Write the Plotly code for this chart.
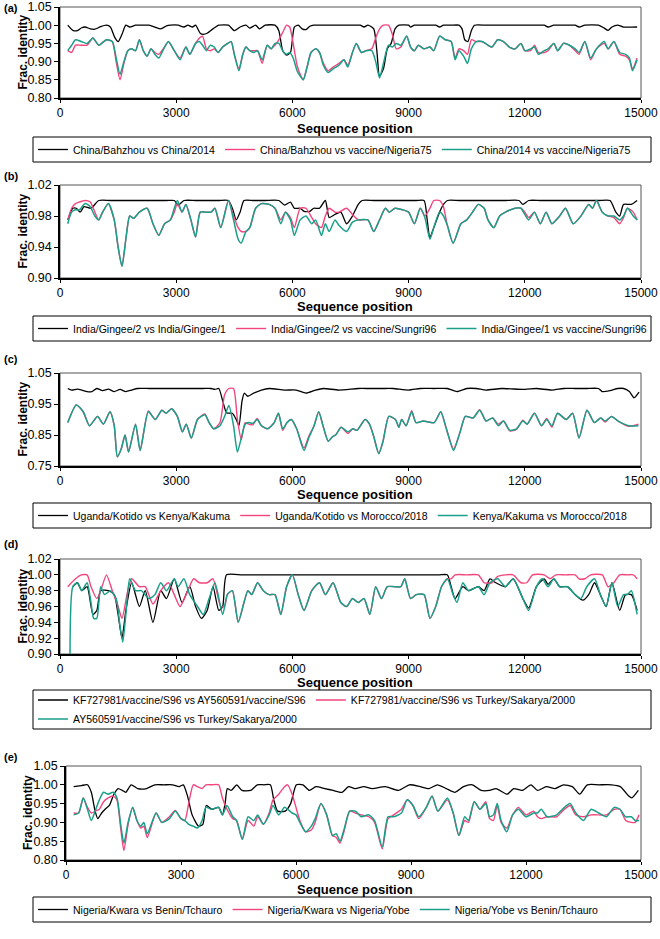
import plotly.graph_objects as go

# ---------------- DATA ----------------
# Panel (a)
a_names = ["China/Bahzhou vs China/2014", "China/Bahzhou vs vaccine/Nigeria75", "China/2014 vs vaccine/Nigeria75"]
a_black_x = [200, 330, 450, 560, 650, 780, 900, 1050, 1200, 1300, 1420, 1500, 1600, 1700, 1800, 1950, 2120, 2300, 2450, 2600,
             2750, 2850, 3050, 3200, 3300, 3420, 3500, 3620, 3700, 3800, 3950, 4100, 4350, 4500, 4650, 4800, 4900, 5050, 5150,
             5300, 5550, 5650, 5750, 5850, 5950, 6050, 6150, 6250, 6350, 6450, 6550, 6850, 7150, 7450, 7750, 7850, 7950, 8100,
             8180, 8250, 8350, 8450, 8550, 8650, 8750, 9000, 9050, 9150, 9400, 9700, 9800, 9900, 10100, 10300, 10380, 10450,
             10530, 10620, 10700, 11000, 11300, 11600, 11900, 12200, 12500, 12600, 12750, 13000, 13300, 13400, 13550, 13900,
             14050, 14150, 14250, 14400, 14550, 14900]
a_black_y = [1.000, 0.986, 0.985, 0.993, 0.995, 0.990, 0.989, 0.996, 1.000, 0.995, 0.965, 0.955, 0.975, 1.000, 0.995, 1.000,
             1.000, 1.000, 0.995, 0.990, 0.998, 1.000, 1.000, 0.995, 1.000, 0.995, 1.000, 0.978, 0.975, 0.978, 0.990, 1.000,
             1.000, 0.985, 0.995, 1.000, 0.992, 1.000, 0.990, 1.000, 1.000, 0.985, 0.930, 0.918, 0.925, 0.995, 1.000, 0.990,
             0.988, 0.997, 1.000, 1.000, 1.000, 1.000, 1.000, 0.995, 1.000, 0.990, 0.930, 0.860, 0.880, 0.935, 0.950, 0.990,
             1.000, 1.000, 0.995, 1.000, 1.000, 1.000, 0.995, 1.000, 1.000, 1.000, 0.990, 0.960, 0.955, 0.985, 1.000, 1.000,
             1.000, 1.000, 1.000, 1.000, 1.000, 0.995, 1.000, 1.000, 1.000, 0.995, 1.000, 1.000, 0.992, 0.986, 0.995, 1.000,
             0.995, 0.995]
a_col_x = [200, 300, 400, 550, 700, 850, 1000, 1200, 1350, 1450, 1550, 1650, 1750, 1850, 1950, 2050, 2150, 2250, 2350, 2450,
           2550, 2700, 2800, 2950, 3100, 3250, 3350, 3500, 3600, 3680, 3780, 3880, 3980, 4080, 4200, 4330, 4420, 4500, 4620,
           4720, 4800, 4900, 5000, 5100, 5220, 5350, 5450, 5550, 5650, 5750, 5850, 5930, 6020, 6120, 6200, 6280, 6380, 6480,
           6600, 6700, 6800, 6920, 7050, 7200, 7330, 7430, 7550, 7650, 7780, 7900, 8050, 8150, 8250, 8350, 8480, 8580, 8680,
           8800, 8950, 9050, 9150, 9250, 9400, 9550, 9650, 9800, 9950, 10100, 10200, 10300, 10420, 10520, 10620, 10750, 10900,
           11050, 11150, 11300, 11450, 11600, 11750, 11900, 12000, 12150, 12250, 12350, 12500, 12600, 12750, 12850, 13000,
           13150, 13300, 13400, 13550, 13700, 13850, 14050, 14150, 14300, 14450, 14600, 14700, 14780, 14900]
a_green_y = [0.930, 0.945, 0.960, 0.955, 0.950, 0.965, 0.945, 0.960, 0.955, 0.910, 0.865, 0.900, 0.930, 0.935, 0.930, 0.960,
             0.930, 0.915, 0.935, 0.920, 0.910, 0.940, 0.955, 0.930, 0.905, 0.940, 0.920, 0.950, 0.955, 0.945, 0.930, 0.945,
             0.940, 0.925, 0.940, 0.950, 0.955, 0.920, 0.875, 0.920, 0.940, 0.930, 0.925, 0.930, 0.905, 0.945, 0.935, 0.950,
             0.950, 0.930, 0.920, 0.925, 0.910, 0.875, 0.860, 0.850, 0.885, 0.925, 0.935, 0.925, 0.890, 0.870, 0.880, 0.890,
             0.905, 0.885, 0.925, 0.950, 0.925, 0.930, 0.930, 0.900, 0.855, 0.895, 0.945, 0.940, 0.950, 0.945, 0.970, 0.940,
             0.930, 0.945, 0.935, 0.940, 0.930, 0.970, 0.960, 0.955, 0.905, 0.930, 0.915, 0.895, 0.935, 0.955, 0.955, 0.945,
             0.940, 0.960, 0.955, 0.940, 0.935, 0.950, 0.930, 0.935, 0.940, 0.920, 0.930, 0.935, 0.950, 0.930, 0.950, 0.945,
             0.935, 0.925, 0.955, 0.910, 0.935, 0.955, 0.935, 0.955, 0.925, 0.920, 0.910, 0.875, 0.905]
a_pink_y = [0.930, 0.925, 0.945, 0.945, 0.945, 0.965, 0.945, 0.960, 0.955, 0.900, 0.850, 0.895, 0.930, 0.935, 0.930, 0.960,
            0.930, 0.915, 0.935, 0.925, 0.920, 0.940, 0.955, 0.930, 0.910, 0.940, 0.920, 0.950, 0.965, 0.970, 0.935, 0.930,
            0.935, 0.925, 0.940, 0.950, 0.955, 0.920, 0.880, 0.920, 0.940, 0.930, 0.930, 0.930, 0.895, 0.945, 0.935, 0.945,
            0.960, 0.980, 1.000, 0.995, 0.950, 0.890, 0.865, 0.850, 0.885, 0.925, 0.935, 0.925, 0.895, 0.875, 0.885, 0.895,
            0.905, 0.890, 0.925, 0.950, 0.925, 0.930, 0.935, 0.965, 0.990, 1.000, 1.000, 0.975, 0.935, 0.940, 0.970, 0.940,
            0.930, 0.945, 0.935, 0.940, 0.930, 0.970, 0.960, 0.955, 0.910, 0.935, 0.930, 0.920, 0.960, 0.955, 0.955, 0.945,
            0.940, 0.960, 0.955, 0.940, 0.935, 0.950, 0.930, 0.930, 0.945, 0.925, 0.925, 0.930, 0.950, 0.930, 0.950, 0.945,
            0.930, 0.920, 0.955, 0.905, 0.935, 0.950, 0.935, 0.955, 0.920, 0.915, 0.905, 0.880, 0.910]

# Panel (b)
b_names = ["India/Gingee/2 vs India/Gingee/1", "India/Gingee/2 vs vaccine/Sungri96", "India/Gingee/1 vs vaccine/Sungri96"]
b_black_x = [200, 330, 420, 520, 620, 800, 1000, 1300, 1600, 1900, 2200, 2500, 2750, 2950, 3050, 3200, 3500, 3800, 4100,
             4350, 4450, 4550, 4650, 4750, 5000, 5300, 5650, 5800, 5950, 6050, 6200, 6300, 6450, 6550, 6700, 6850, 6950,
             7100, 7250, 7400, 7550, 7700, 7800, 8100, 8400, 8700, 9000, 9200, 9400, 9480, 9550, 9650, 9800, 9900, 10000,
             10300, 10600, 10900, 11200, 11500, 11850, 11950, 12100, 12400, 12700, 13000, 13300, 13600, 13900, 14200,
             14350, 14450, 14550, 14750, 14900]
b_black_y = [0.975, 0.990, 0.990, 0.985, 0.992, 0.990, 1.000, 1.000, 1.000, 1.000, 1.000, 1.000, 1.000, 1.000, 0.994, 1.000,
             1.000, 1.000, 1.000, 1.000, 0.990, 0.975, 0.985, 1.000, 1.000, 1.000, 1.000, 0.994, 0.998, 0.990, 0.990, 0.986,
             0.986, 0.990, 0.990, 1.000, 0.978, 0.982, 0.985, 0.970, 0.980, 0.995, 1.000, 1.000, 1.000, 1.000, 1.000, 1.000,
             1.000, 0.975, 0.952, 0.965, 0.985, 0.995, 1.000, 1.000, 1.000, 1.000, 1.000, 1.000, 1.000, 0.995, 1.000, 1.000,
             1.000, 1.000, 1.000, 1.000, 1.000, 1.000, 0.985, 0.980, 0.995, 0.995, 1.000]
b_col_x = [200, 300, 400, 500, 650, 780, 900, 1000, 1100, 1250, 1400, 1500, 1600, 1700, 1800, 1900, 2050, 2250, 2400, 2550,
           2700, 2850, 2950, 3030, 3150, 3250, 3380, 3500, 3620, 3750, 3900, 4000, 4150, 4350, 4480, 4600, 4680, 4800, 4900,
           5050, 5200, 5400, 5550, 5700, 5820, 5950, 6050, 6200, 6350, 6500, 6600, 6750, 6850, 6950, 7100, 7200, 7400, 7550,
           7700, 7950, 8100, 8250, 8400, 8500, 8650, 8850, 9000, 9150, 9300, 9420, 9550, 9650, 9800, 9900, 10000, 10150,
           10350, 10500, 10650, 10800, 10950, 11050, 11200, 11350, 11500, 11750, 11900, 12000, 12100, 12250, 12400, 12550,
           12700, 12900, 13050, 13250, 13450, 13650, 13750, 13850, 14000, 14150, 14300, 14450, 14550, 14650, 14800, 14900]
b_green_y = [0.970, 0.985, 0.988, 0.988, 0.996, 0.992, 0.980, 0.975, 0.985, 0.996, 0.975, 0.940, 0.915, 0.950, 0.980, 0.977,
             0.985, 0.990, 0.970, 0.955, 0.970, 0.975, 0.990, 1.000, 0.985, 0.995, 0.975, 0.953, 0.985, 0.985, 0.985, 0.990,
             0.965, 1.000, 0.975, 0.950, 0.945, 0.960, 0.965, 0.990, 0.996, 0.995, 0.990, 0.970, 0.985, 0.975, 0.955, 0.975,
             0.980, 0.970, 0.975, 0.955, 0.970, 0.960, 0.975, 0.968, 0.960, 0.972, 0.975, 0.975, 0.960, 0.975, 0.990, 0.985,
             0.990, 0.988, 0.985, 0.970, 0.990, 0.978, 0.950, 0.965, 0.985, 0.980, 0.968, 0.945, 0.970, 0.975, 0.985, 0.995,
             0.990, 0.975, 0.965, 0.980, 0.985, 0.990, 0.990, 0.982, 0.975, 0.985, 0.970, 0.985, 0.970, 0.980, 0.990, 0.970,
             0.980, 0.995, 0.990, 1.000, 0.985, 0.980, 0.980, 0.975, 0.980, 0.990, 0.980, 0.975]
b_pink_y = [0.975, 0.990, 0.996, 0.998, 1.000, 0.998, 0.985, 0.975, 0.985, 0.996, 0.975, 0.940, 0.915, 0.950, 0.980, 0.977,
            0.985, 0.990, 0.970, 0.955, 0.970, 0.975, 0.985, 0.996, 0.985, 0.995, 0.975, 0.953, 0.985, 0.985, 0.985, 0.990,
            0.965, 1.000, 0.980, 0.965, 0.960, 0.960, 0.965, 0.990, 0.996, 0.995, 0.990, 0.975, 0.985, 0.978, 0.965, 0.990,
            0.990, 0.978, 0.970, 0.965, 0.980, 0.990, 0.985, 0.985, 0.990, 0.982, 0.975, 0.975, 0.960, 0.975, 0.990, 0.985,
            0.990, 0.988, 0.985, 0.970, 0.990, 0.980, 0.990, 1.000, 1.000, 0.992, 0.968, 0.945, 0.970, 0.975, 0.985, 0.995,
            0.990, 0.975, 0.965, 0.980, 0.985, 0.990, 0.990, 0.985, 0.978, 0.985, 0.970, 0.985, 0.970, 0.980, 0.990, 0.970,
            0.980, 0.995, 0.990, 1.000, 0.985, 0.980, 0.978, 0.970, 0.978, 0.990, 0.985, 0.975]

# Panel (c)
c_names = ["Uganda/Kotido vs Kenya/Kakuma", "Uganda/Kotido vs Morocco/2018", "Kenya/Kakuma vs Morocco/2018"]
c_black_x = [200, 300, 450, 560, 700, 820, 950, 1100, 1250, 1400, 1550, 1700, 1850, 2000, 2300, 2600, 2900, 3200, 3500,
             3700, 3900, 4000, 4100, 4200, 4300, 4450, 4550, 4620, 4700, 4760, 4850, 5000, 5200, 5400, 5800, 6100, 6350,
             6600, 6800, 7200, 7700, 8000, 8300, 8600, 9000, 9300, 9650, 10000, 10250, 10500, 10750, 11000, 11400, 12000,
             12300, 12700, 13000, 13300, 13600, 13900, 14000, 14200, 14400, 14550, 14700, 14820, 14950]
c_black_y = [1.000, 0.995, 0.998, 0.995, 0.990, 0.990, 1.000, 0.993, 0.998, 0.990, 0.997, 0.990, 0.995, 1.000, 1.000, 1.000,
             1.000, 1.000, 1.000, 1.000, 1.000, 0.997, 1.000, 0.960, 0.922, 0.920, 0.900, 0.880, 0.960, 0.985, 0.975, 0.985,
             0.995, 1.000, 0.995, 0.995, 0.985, 0.995, 1.000, 0.995, 1.000, 1.000, 1.000, 1.000, 0.995, 1.000, 1.000, 1.000,
             0.990, 1.000, 1.000, 0.995, 1.000, 0.997, 1.000, 0.995, 1.000, 1.000, 1.000, 1.000, 0.990, 0.993, 1.000, 1.000,
             0.990, 0.970, 0.988]
c_col_x = [200, 420, 600, 760, 970, 1120, 1290, 1400, 1480, 1580, 1680, 1770, 1950, 2070, 2280, 2460, 2630, 2740, 2880, 3030,
           3160, 3260, 3390, 3550, 3740, 3850, 3970, 4130, 4250, 4360, 4480, 4580, 4680, 4780, 4880, 4980, 5090, 5200, 5360,
           5530, 5640, 5750, 5860, 5975, 6110, 6300, 6420, 6560, 6680, 6790, 6925, 7040, 7115, 7260, 7430, 7560, 7670, 7875,
           7990, 8100, 8230, 8340, 8490, 8660, 8750, 8820, 8935, 9080, 9190, 9380, 9660, 9830, 9975, 10160, 10330, 10465,
           10665, 10835, 11000, 11170, 11315, 11450, 11615, 11785, 11950, 12060, 12250, 12430, 12565, 12700, 12845, 13070,
           13235, 13400, 13605, 13795, 13960, 14075, 14240, 14410, 14690, 14935]
c_green_y = [0.890, 0.947, 0.925, 0.880, 0.910, 0.885, 0.925, 0.880, 0.780, 0.805, 0.850, 0.795, 0.885, 0.800, 0.925, 0.900,
             0.930, 0.920, 0.935, 0.910, 0.860, 0.885, 0.840, 0.900, 0.915, 0.890, 0.870, 0.880, 0.910, 0.945, 0.880, 0.795,
             0.840, 0.885, 0.890, 0.888, 0.900, 0.880, 0.870, 0.890, 0.920, 0.870, 0.890, 0.900, 0.870, 0.800, 0.840, 0.880,
             0.925, 0.880, 0.830, 0.845, 0.850, 0.875, 0.860, 0.870, 0.865, 0.900, 0.885, 0.845, 0.790, 0.830, 0.910, 0.900,
             0.875, 0.900, 0.880, 0.925, 0.890, 0.895, 0.890, 0.925, 0.870, 0.800, 0.860, 0.910, 0.905, 0.930, 0.895, 0.905,
             0.880, 0.895, 0.865, 0.870, 0.895, 0.885, 0.920, 0.880, 0.900, 0.880, 0.920, 0.900, 0.920, 0.840, 0.930, 0.890,
             0.905, 0.895, 0.910, 0.895, 0.880, 0.880]
c_pink_y = [0.890, 0.947, 0.925, 0.880, 0.910, 0.885, 0.925, 0.880, 0.780, 0.805, 0.850, 0.795, 0.885, 0.800, 0.928, 0.900,
            0.930, 0.920, 0.935, 0.910, 0.860, 0.885, 0.840, 0.900, 0.918, 0.890, 0.870, 0.890, 0.980, 1.000, 1.000, 0.900,
            0.835, 0.890, 0.885, 0.883, 0.903, 0.880, 0.870, 0.890, 0.920, 0.865, 0.890, 0.900, 0.870, 0.808, 0.845, 0.880,
            0.925, 0.880, 0.830, 0.845, 0.850, 0.875, 0.855, 0.870, 0.865, 0.900, 0.885, 0.845, 0.790, 0.830, 0.910, 0.900,
            0.875, 0.900, 0.880, 0.928, 0.890, 0.895, 0.890, 0.925, 0.870, 0.805, 0.860, 0.910, 0.905, 0.932, 0.895, 0.905,
            0.885, 0.895, 0.863, 0.868, 0.898, 0.885, 0.920, 0.880, 0.903, 0.875, 0.920, 0.900, 0.920, 0.840, 0.930, 0.890,
            0.905, 0.892, 0.910, 0.895, 0.878, 0.885]

# Panel (d)
d_names = ["KF727981/vaccine/S96 vs AY560591/vaccine/S96", "KF727981/vaccine/S96 vs Turkey/Sakarya/2000",
           "AY560591/vaccine/S96 vs Turkey/Sakarya/2000"]
d_black_x = [330, 450, 560, 700, 850, 950, 1050, 1250, 1400, 1500, 1600, 1700, 1850, 2050, 2200, 2400, 2600, 2750, 2950,
             3150, 3350, 3500, 3650, 3800, 3950, 4100, 4200, 4300, 4700, 5100, 5500, 5900, 6300, 6700, 7100, 7500, 7900,
             8300, 8700, 9100, 9500, 9800, 10000, 10100, 10200, 10400, 10550, 10800, 10950, 11100, 11250, 11500, 11700,
             11950, 12100, 12300, 12500, 12600, 12750, 12900, 13100, 13300, 13500, 13650, 13800, 13950, 14100, 14250,
             14450, 14600, 14750, 14900]
d_black_y = [0.985, 0.990, 0.980, 0.985, 0.950, 0.955, 0.980, 0.980, 0.975, 0.950, 0.920, 0.955, 0.990, 0.960, 0.980, 0.940,
             0.980, 0.970, 0.995, 0.965, 0.985, 0.960, 0.945, 0.955, 0.985, 0.955, 0.960, 1.000, 1.000, 1.000, 1.000, 1.000,
             1.000, 1.000, 1.000, 1.000, 1.000, 1.000, 1.000, 1.000, 1.000, 1.000, 1.000, 0.985, 0.970, 0.985, 0.980, 0.985,
             0.980, 0.995, 0.990, 0.985, 0.995, 0.970, 0.958, 0.985, 0.995, 0.988, 0.995, 0.985, 0.985, 0.975, 0.968, 0.975,
             0.990, 0.975, 0.960, 0.990, 0.955, 0.975, 0.975, 0.955]
d_pink_x = [200, 400, 550, 700, 800, 950, 1050, 1200, 1350, 1500, 1600, 1750, 1850, 2050, 2200, 2400, 2600, 2800, 2950, 3100,
            3300, 3450, 3600, 3800, 3950, 4150, 4250, 4320, 4450, 4600, 4750, 4850, 4950, 5100, 5250, 5400, 5550, 5700, 5850,
            6000, 6150, 6300, 6500, 6700, 6850, 7050, 7250, 7400, 7550, 7700, 7850, 8000, 8150, 8300, 8450, 8650, 8800,
            8900, 9050, 9200, 9400, 9550, 9700, 9850, 10000, 10100, 10200, 10500, 10800, 10950, 11150, 11300, 11500, 11700,
            11900, 12050, 12200, 12500, 12650, 12800, 13050, 13300, 13400, 13550, 13700, 14000, 14150, 14300, 14450, 14650,
            14800, 14900]
d_pink_y = [0.985, 0.995, 1.000, 1.000, 0.985, 0.970, 0.980, 1.000, 0.980, 0.960, 0.945, 0.980, 0.995, 0.985, 0.985, 0.963,
            0.980, 0.990, 0.975, 0.960, 0.980, 0.995, 0.990, 0.990, 0.995, 0.960, 0.960, 0.975, 0.980, 0.940, 0.965, 0.980,
            0.975, 0.990, 0.980, 0.975, 0.975, 0.950, 0.985, 1.000, 0.975, 0.955, 0.980, 0.990, 0.975, 0.990, 0.965, 0.960,
            0.970, 0.965, 0.970, 0.950, 0.985, 0.970, 0.985, 0.985, 0.985, 0.995, 0.970, 0.975, 0.975, 0.945, 0.960, 0.985,
            0.995, 0.995, 1.000, 1.000, 1.000, 0.990, 0.990, 0.998, 1.000, 1.000, 0.990, 0.990, 1.000, 1.000, 0.995, 1.000,
            1.000, 1.000, 0.995, 0.995, 1.000, 1.000, 0.985, 0.990, 1.000, 1.000, 1.000, 0.995]
d_green_x = [260, 330, 450, 560, 700, 800, 870, 950, 1050, 1150, 1300, 1450, 1550, 1620, 1700, 1800, 1950, 2100, 2300, 2450,
             2600, 2750, 2950, 3050, 3200, 3350, 3550, 3700, 3850, 4000, 4200, 4320, 4450, 4600, 4750, 4850, 4950, 5100,
             5250, 5400, 5550, 5700, 5850, 6000, 6150, 6300, 6500, 6700, 6850, 7050, 7250, 7400, 7550, 7700, 7850, 8000,
             8150, 8300, 8450, 8650, 8800, 8900, 9050, 9200, 9400, 9550, 9700, 9850, 10000, 10150, 10250, 10400, 10550,
             10800, 10950, 11100, 11300, 11500, 11700, 11950, 12100, 12300, 12450, 12600, 12750, 12900, 13100, 13300,
             13450, 13600, 13800, 13950, 14100, 14250, 14400, 14550, 14650, 14750, 14900]
d_green_y = [0.850, 0.985, 0.990, 0.980, 0.990, 0.965, 0.945, 0.945, 0.985, 0.975, 0.980, 0.970, 0.935, 0.915, 0.950, 0.995,
             0.980, 0.980, 0.970, 0.975, 0.990, 0.980, 0.995, 0.985, 0.995, 0.975, 0.960, 0.950, 0.970, 0.990, 0.950, 0.975,
             0.980, 0.940, 0.965, 0.980, 0.975, 0.990, 0.980, 0.975, 0.975, 0.950, 0.985, 1.000, 0.975, 0.955, 0.980, 0.990,
             0.975, 0.990, 0.965, 0.960, 0.970, 0.965, 0.970, 0.950, 0.985, 0.970, 0.985, 0.985, 0.985, 0.995, 0.970, 0.975,
             0.975, 0.945, 0.960, 0.985, 0.995, 0.975, 0.965, 0.990, 0.980, 0.985, 0.975, 0.990, 0.995, 0.985, 0.995, 0.970,
             0.955, 0.985, 0.995, 0.985, 0.995, 0.985, 0.985, 0.975, 0.970, 0.985, 0.995, 0.975, 0.960, 0.990, 0.960, 0.975,
             0.975, 0.980, 0.950]

# Panel (e)
e_names = ["Nigeria/Kwara vs Benin/Tchauro", "Nigeria/Kwara vs Nigeria/Yobe", "Nigeria/Yobe vs Benin/Tchauro"]
e_black_x = [200, 400, 560, 660, 760, 830, 930, 1020, 1130, 1250, 1360, 1470, 1560, 1700, 1870, 2100, 2320, 2550, 2780, 2950,
             3060, 3170, 3290, 3460, 3570, 3660, 3800, 3980, 4080, 4150, 4210, 4310, 4455, 4590, 4820, 4990, 5160, 5330,
             5420, 5520, 5720, 5860, 6010, 6180, 6350, 6520, 6750, 6970, 7200, 7370, 7540, 7770, 7990, 8330, 8670, 8960,
             9240, 9470, 9690, 9920, 10150, 10370, 10600, 10830, 11050, 11220, 11510, 11680, 11900, 12130, 12300, 12530,
             12760, 12980, 13210, 13400, 13600, 13900, 14230, 14460, 14680, 14760, 14930]
e_black_y = [0.995, 0.998, 1.000, 0.980, 0.930, 0.910, 0.925, 0.935, 0.945, 0.975, 0.990, 0.985, 0.980, 1.000, 0.990, 0.990,
             1.000, 1.000, 1.000, 0.995, 1.000, 0.970, 0.920, 0.890, 0.895, 0.945, 0.935, 0.940, 0.920, 0.950, 0.990, 0.985,
             1.000, 0.985, 0.985, 1.000, 1.000, 1.000, 0.960, 0.930, 0.930, 0.950, 1.000, 1.000, 0.985, 0.995, 0.990, 0.985,
             0.980, 0.995, 0.990, 0.995, 0.990, 0.995, 0.985, 1.000, 0.995, 0.990, 1.000, 0.990, 0.980, 0.995, 1.000, 0.985,
             0.985, 0.990, 0.975, 0.990, 0.985, 1.000, 0.985, 0.995, 0.990, 1.000, 0.995, 0.975, 1.000, 1.000, 1.000, 0.995,
             0.970, 0.965, 0.985]
e_col_x = [200, 330, 450, 560, 660, 760, 870, 980, 1100, 1230, 1330, 1420, 1510, 1620, 1740, 1850, 1950, 2030, 2120, 2350,
           2500, 2700, 2850, 3000, 3100, 3200, 3320, 3430, 3550, 3650, 3800, 3980, 4080, 4200, 4350, 4450, 4600, 4750, 4900,
           5000, 5150, 5300, 5400, 5550, 5700, 5780, 5900, 6000, 6100, 6250, 6400, 6500, 6650, 6800, 6950, 7050, 7150, 7250,
           7400, 7550, 7700, 7900, 8050, 8250, 8400, 8550, 8750, 8900, 9050, 9200, 9400, 9550, 9700, 9950, 10100, 10250,
           10400, 10500, 10650, 10800, 10950, 11050, 11150, 11250, 11350, 11500, 11650, 11800, 12000, 12200, 12300, 12400,
           12550, 12800, 12950, 13150, 13300, 13500, 13700, 13900, 14100, 14300, 14450, 14600, 14750, 14850, 14950]
e_green_y = [0.920, 0.925, 0.965, 0.935, 0.905, 0.930, 0.960, 0.980, 0.975, 0.980, 0.965, 0.900, 0.845, 0.900, 0.940, 0.905,
             0.890, 0.900, 0.870, 0.925, 0.900, 0.910, 0.930, 0.910, 0.905, 0.895, 0.890, 0.885, 0.905, 0.940, 0.935, 0.940,
             0.920, 0.945, 0.915, 0.905, 0.855, 0.915, 0.905, 0.920, 0.895, 0.920, 0.945, 0.920, 0.940, 0.935, 0.925, 0.920,
             0.900, 0.875, 0.890, 0.910, 0.950, 0.920, 0.865, 0.870, 0.850, 0.880, 0.930, 0.930, 0.915, 0.920, 0.905, 0.835,
             0.915, 0.915, 0.925, 0.960, 0.945, 0.915, 0.940, 0.970, 0.930, 0.965, 0.925, 0.865, 0.915, 0.905, 0.955, 0.935,
             0.950, 0.915, 0.920, 0.950, 0.905, 0.875, 0.920, 0.935, 0.915, 0.925, 0.925, 0.935, 0.915, 0.920, 0.935, 0.950,
             0.925, 0.905, 0.935, 0.925, 0.915, 0.940, 0.935, 0.915, 0.915, 0.905, 0.905]
e_pink_y = [0.925, 0.925, 0.965, 0.940, 0.925, 0.930, 0.935, 0.955, 0.965, 0.970, 0.960, 0.890, 0.825, 0.895, 0.940, 0.905,
            0.885, 0.890, 0.860, 0.925, 0.900, 0.915, 0.932, 0.910, 0.905, 0.950, 1.000, 0.995, 0.990, 1.000, 1.000, 1.000,
            0.965, 0.935, 0.910, 0.905, 0.855, 0.905, 0.890, 0.915, 0.895, 0.925, 0.960, 0.975, 0.995, 1.000, 0.975, 0.940,
            0.905, 0.875, 0.880, 0.900, 0.950, 0.920, 0.865, 0.860, 0.845, 0.875, 0.930, 0.925, 0.920, 0.915, 0.900, 0.830,
            0.910, 0.920, 0.935, 0.960, 0.945, 0.910, 0.940, 0.970, 0.930, 0.960, 0.925, 0.865, 0.905, 0.900, 0.955, 0.935,
            0.955, 0.910, 0.905, 0.945, 0.900, 0.885, 0.920, 0.940, 0.920, 0.930, 0.915, 0.910, 0.915, 0.915, 0.930, 0.945,
            0.920, 0.915, 0.920, 0.920, 0.920, 0.935, 0.935, 0.905, 0.900, 0.900, 0.920]

# Axis ticks and texts
x_ticks = [0, 3000, 6000, 9000, 12000, 15000]
a_yticks = [0.80, 0.85, 0.90, 0.95, 1.00, 1.05]
b_yticks = [0.90, 0.94, 0.98, 1.02]
c_yticks = [0.75, 0.85, 0.95, 1.05]
d_yticks = [0.90, 0.92, 0.94, 0.96, 0.98, 1.00, 1.02]
e_yticks = [0.80, 0.85, 0.90, 0.95, 1.00, 1.05]
panel_labels = ["(a)", "(b)", "(c)", "(d)", "(e)"]
x_title = "Sequence position"
y_title = "Frac. identity"

# ---------------- LAYOUT ----------------
W, H = 660, 939
BLACK, PINK, GREEN = "#000000", "#F2457C", "#1A9F8A"
FONT = "Liberation Sans, Arial, sans-serif"


def fy(p):
    return 1 - p / H


def fx(p):
    return p / W


panels = [
    dict(bx=a_black_x, by=a_black_y, cxp=a_col_x, py_=a_pink_y, cxg=a_col_x, gy=a_green_y, names=a_names,
         ticks=a_yticks, top=7, bot=98, left=60, xt=128, lb=(33, 137, 651, 162), lab=8),
    dict(bx=b_black_x, by=b_black_y, cxp=b_col_x, py_=b_pink_y, cxg=b_col_x, gy=b_green_y, names=b_names,
         ticks=b_yticks, top=185, bot=278, left=60, xt=306, lb=(33, 316, 651, 341), lab=176),
    dict(bx=c_black_x, by=c_black_y, cxp=c_col_x, py_=c_pink_y, cxg=c_col_x, gy=c_green_y, names=c_names,
         ticks=c_yticks, top=373, bot=466, left=60, xt=494, lb=(33, 503, 651, 528), lab=359),
    dict(bx=d_black_x, by=d_black_y, cxp=d_pink_x, py_=d_pink_y, cxg=d_green_x, gy=d_green_y, names=d_names,
         ticks=d_yticks, top=559, bot=654, left=60, xt=682, lb=(33, 690, 651, 729), lab=544),
    dict(bx=e_black_x, by=e_black_y, cxp=e_col_x, py_=e_pink_y, cxg=e_col_x, gy=e_green_y, names=e_names,
         ticks=e_yticks, top=766, bot=860, left=66, xt=889, lb=(33, 897, 651, 922), lab=757),
]
RIGHT = 641

fig = go.Figure()
layout = dict(width=W, height=H, margin=dict(l=0, r=0, t=0, b=0, autoexpand=False), paper_bgcolor="white",
              plot_bgcolor="white", font=dict(family=FONT, color="black"), showlegend=True)
annotations, shapes = [], []

for i, p in enumerate(panels):
    n = i + 1
    xa = "x" if n == 1 else f"x{n}"
    ya = "y" if n == 1 else f"y{n}"
    lg = "legend" if n == 1 else f"legend{n}"
    series = [(p["bx"], p["by"], BLACK, 1.3, p["names"][0]),
              (p["cxp"], p["py_"], PINK, 1.4, p["names"][1]),
              (p["cxg"], p["gy"], GREEN, 1.5, p["names"][2])]
    for sx, sy, col, lw, nm in series:
        assert len(sx) == len(sy), (nm, len(sx), len(sy))
        fig.add_trace(go.Scatter(x=sx, y=sy, mode="lines", name=nm, xaxis=xa, yaxis=ya, legend=lg,
                                 line=dict(color=col, width=lw, shape="spline", smoothing=0.6)))
    t = p["ticks"]
    layout["xaxis" if n == 1 else f"xaxis{n}"] = dict(
        domain=[fx(p["left"]), fx(RIGHT)], anchor=ya, range=[0, 15000], tickvals=x_ticks,
        ticktext=[str(v) for v in x_ticks], showgrid=False, zeroline=False, showline=True, linecolor="black",
        linewidth=1.5, ticks="outside", ticklen=3, tickcolor="black", tickfont=dict(size=12, family=FONT))
    layout["yaxis" if n == 1 else f"yaxis{n}"] = dict(
        domain=[fy(p["bot"]), fy(p["top"])], anchor=xa, range=[t[0], t[-1]], tickvals=t,
        ticktext=[f"{v:.2f}" for v in t], showgrid=False, zeroline=False, showline=True, linecolor="black",
        linewidth=1.5, ticks="outside", ticklen=4, tickcolor="black", tickfont=dict(size=12.5, family=FONT))
    # plot-area border (top/right)
    shapes.append(dict(type="rect", xref=f"{xa} domain", yref=f"{ya} domain", x0=0, x1=1, y0=0, y1=1,
                       line=dict(color="#555555", width=1), layer="below"))
    # legend box
    l0, t0, r0, b0 = p["lb"]
    shapes.append(dict(type="rect", xref="paper", yref="paper", x0=fx(l0), x1=fx(r0), y0=fy(b0), y1=fy(t0),
                       line=dict(color="black", width=1)))
    layout[lg] = dict(orientation="h", x=fx(l0), xanchor="left", y=fy((t0 + b0) / 2), yanchor="middle",
                      bgcolor="rgba(0,0,0,0)", borderwidth=0, font=dict(size=10.5, family=FONT, color="black"),
                      itemwidth=30, tracegroupgap=0)
    # axis titles
    annotations.append(dict(text=f"<b>{x_title}</b>", xref="paper", yref="paper", x=fx(355),
                            y=fy(p["xt"]), xanchor="center", yanchor="middle", showarrow=False,
                            font=dict(size=13, family=FONT)))
    annotations.append(dict(text=f"<b>{y_title}</b>", xref="paper", yref="paper", x=fx(22 if n != 5 else 28),
                            y=fy((p["top"] + p["bot"]) / 2), xanchor="center", yanchor="middle", showarrow=False,
                            textangle=-90, font=dict(size=12, family=FONT)))
    annotations.append(dict(text=f"<b>{panel_labels[i]}</b>", xref="paper", yref="paper", x=fx(2),
                            y=fy(p["lab"]), xanchor="left", yanchor="middle", showarrow=False,
                            font=dict(size=11, family=FONT)))

layout["annotations"] = annotations
layout["shapes"] = shapes
fig.update_layout(**layout)
fig.write_html("out.html", config={"displayModeBar": False},
               post_script="document.body.style.margin='0';document.body.style.overflow='hidden';")
